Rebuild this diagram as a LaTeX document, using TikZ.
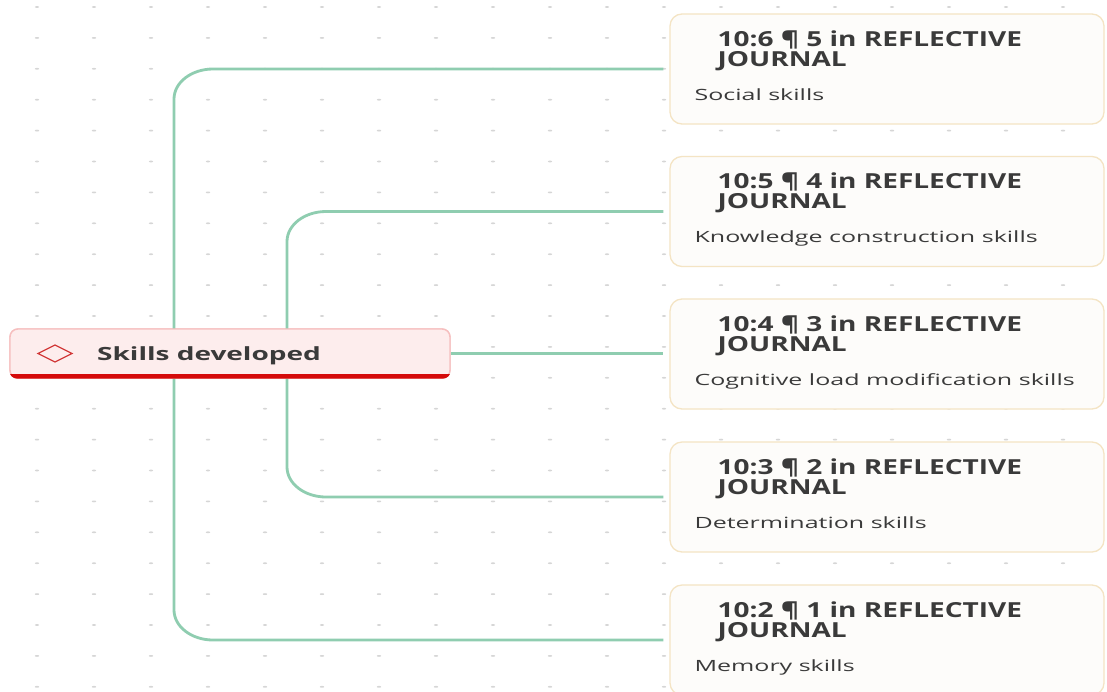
\documentclass[tikz,border=0pt]{standalone}
\usepackage{fontspec}
\setmainfont{Open Sans}
\usetikzlibrary{calc}

\definecolor{linkc}{HTML}{8FCDB0}
\definecolor{cardfill}{HTML}{FDFCFA}
\definecolor{cardline}{HTML}{F4E4C4}
\definecolor{rootfill}{HTML}{FDEDED}
\definecolor{rootline}{HTML}{F6BFBF}
\definecolor{rootbar}{HTML}{D50B0B}
\definecolor{icon}{HTML}{D23A3A}
\definecolor{ink}{HTML}{3A3A3A}
\definecolor{dotc}{HTML}{D6D6D6}

% text is set flattened
\newcommand{\squash}[2]{\scalebox{1}[#1]{#2}}

\tikzset{
  card/.style={draw=cardline, fill=cardfill, line width=1.3pt, rounded corners=12pt,
    minimum width=434pt, minimum height=110pt, inner sep=0pt},
  rootbox/.style={draw=rootline, fill=rootfill, line width=1.4pt, rounded corners=8pt,
    minimum width=440pt, minimum height=49pt, inner sep=0pt},
  ttl/.style={anchor=base west, inner sep=0pt, text=ink,
    font=\fontsize{28}{28}\selectfont\bfseries},
  sub/.style={anchor=base west, inner sep=0pt, text=ink,
    font=\fontsize{25}{25}\selectfont},
  rootlabel/.style={anchor=base west, inner sep=0pt, text=ink,
    font=\fontsize{28}{28}\selectfont\bfseries},
  link/.style={draw=linkc, line width=2.8pt},
}

\begin{document}
\begin{tikzpicture}[x=1pt,y=-1pt]
\useasboundingbox (0,0) rectangle (1107,691);
\clip (0,0) rectangle (1107,691);
\fill[white] (0,0) rectangle (1107,691);

% dotted background grid
\foreach \i in {0,...,18}
  \foreach \j in {0,...,22}
    \fill[dotc] ({37+57*\i},{7+30.9*\j}) ellipse [x radius=2.2, y radius=0.9];

% cards
\node[card] (b1) at (887, 69) {};
\node[card] (b2) at (887, 211.5) {};
\node[card] (b3) at (887, 354) {};
\node[card] (b4) at (887, 497) {};
\node[card] (b5) at (887, 640) {};

% root node
\node[rootbox] (root) at (230, 353.5) {};

% trunk positions
\coordinate (ot) at (174, 0);
\coordinate (it) at (287, 0);

% connectors
\draw[link] (root.center -| ot) -- ($(b1.west -| ot)+(0,30)$)
  .. controls +(0,-16.6) and +(-21.5,0) .. ($(b1.west -| ot)+(39,0)$)
  -- ([xshift=-6pt]b1.west);
\draw[link] (root.center -| it) -- ($(b2.west -| it)+(0,30)$)
  .. controls +(0,-16.6) and +(-21.5,0) .. ($(b2.west -| it)+(39,0)$)
  -- ([xshift=-6pt]b2.west);
\draw[link] (root.east) -- ([xshift=-6pt]b3.west |- root.east);
\draw[link] (root.center -| it) -- ($(b4.west -| it)+(0,-30)$)
  .. controls +(0,16.6) and +(-21.5,0) .. ($(b4.west -| it)+(39,0)$)
  -- ([xshift=-6pt]b4.west);
\draw[link] (root.center -| ot) -- ($(b5.west -| ot)+(0,-30)$)
  .. controls +(0,16.6) and +(-21.5,0) .. ($(b5.west -| ot)+(39,0)$)
  -- ([xshift=-6pt]b5.west);

% root node drawn over the trunks
\node[rootbox] (rootface) at (root.center) {};
\begin{scope}
  \clip[rounded corners=8pt] (root.north west) rectangle (root.south east);
  \fill[rootbar] ($(root.south west)+(0,-5)$) rectangle (root.south east);
\end{scope}
\draw[icon, line width=1.3pt, line join=miter]
  (38,353.5) -- (55,345) -- (72,353.5) -- (55,362) -- cycle;
\node[rootlabel] (rootl) at (97,360) {\squash{0.65}{Skills developed}};

% card texts
\foreach \n/\a/\b/\s in {
  b1/6/5/Social skills,
  b2/5/4/Knowledge construction skills,
  b3/4/3/Cognitive load modification skills,
  b4/3/2/Determination skills,
  b5/2/1/Memory skills}{
  \node[ttl] (\n t1) at ($(\n.north west)+(48,33)$) {\squash{0.74}{10:\a{} ¶ \b{} in REFLECTIVE}};
  \node[ttl] (\n t2) at ($(\n.north west)+(48,53)$) {\squash{0.74}{JOURNAL}};
  \node[sub] (\n s) at ($(\n.north west)+(25,87)$) {\squash{0.62}{\s}};
}
\end{tikzpicture}
\end{document}
